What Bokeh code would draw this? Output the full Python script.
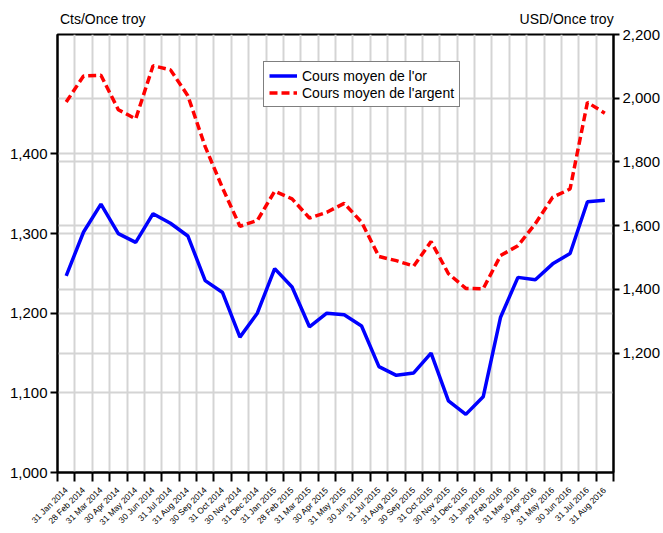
import math
from bokeh.plotting import figure
from bokeh.models import (Range1d, LinearAxis, FixedTicker, NumeralTickFormatter,
                          CustomJSTickFormatter, Grid, Legend, LegendItem)
from bokeh.embed import file_html
from bokeh.resources import INLINE

months = ["31 Jan 2014", "28 Feb 2014", "31 Mar 2014", "30 Apr 2014", "31 May 2014",
          "30 Jun 2014", "31 Jul 2014", "31 Aug 2014", "30 Sep 2014", "31 Oct 2014",
          "30 Nov 2014", "31 Dec 2014", "31 Jan 2015", "28 Feb 2015", "31 Mar 2015",
          "30 Apr 2015", "31 May 2015", "30 Jun 2015", "31 Jul 2015", "31 Aug 2015",
          "30 Sep 2015", "31 Oct 2015", "30 Nov 2015", "31 Dec 2015", "31 Jan 2016",
          "29 Feb 2016", "31 Mar 2016", "30 Apr 2016", "31 May 2016", "30 Jun 2016",
          "31 Jul 2016", "31 Aug 2016"]

gold = [1247, 1302, 1337, 1300, 1289, 1325, 1313, 1297, 1241, 1226, 1170, 1200,
        1256, 1233, 1183, 1200, 1198, 1184, 1133, 1122, 1125, 1150, 1090, 1073,
        1095, 1195, 1245, 1242, 1262, 1275, 1340, 1342]

silver = [1988, 2070, 2072, 1964, 1935, 2102, 2089, 2008, 1848, 1718, 1598, 1616,
          1708, 1684, 1624, 1642, 1670, 1611, 1503, 1490, 1473, 1550, 1449, 1403,
          1402, 1506, 1537, 1606, 1689, 1715, 1987, 1953]

left_ticks = [1000, 1100, 1200, 1300, 1400]
right_ticks = [1200, 1400, 1600, 1800, 2000, 2200]
axis_titles = ["Cts/Once troy", "USD/Once troy"]
gold_label = "Cours moyen de l'or"
silver_label = "Cours moyen de l'argent"

FONT = "Liberation Sans"
n = len(months)
xs = [i + 0.5 for i in range(n)]

p = figure(width=663, height=533, output_backend="svg", toolbar_location=None,
           x_range=Range1d(0, n), y_range=Range1d(1000, 1550),
           min_border_left=57, min_border_right=48, min_border_top=34,
           min_border_bottom=61)
p.extra_y_ranges = {"silver": Range1d(825, 2200)}
p.xaxis.visible = False
p.yaxis.visible = False
p.outline_line_color = "black"
p.outline_line_width = 2
p.background_fill_color = "white"
p.border_fill_color = "white"

# bottom axis: labels centred on months, tick marks between months
xaxis = LinearAxis(ticker=FixedTicker(ticks=xs, minor_ticks=list(range(n + 1))),
                   formatter=CustomJSTickFormatter(args=dict(labels=months),
                                                   code="return labels[Math.floor(tick)] || '';"))
xaxis.major_tick_out = 0
xaxis.major_tick_in = 0
xaxis.minor_tick_out = 9
xaxis.minor_tick_in = 0
xaxis.minor_tick_line_color = "black"
xaxis.minor_tick_line_width = 2
xaxis.axis_line_color = "black"
xaxis.axis_line_width = 2
xaxis.major_label_orientation = math.pi / 4
xaxis.major_label_standoff = 7
xaxis.major_label_text_font = FONT
xaxis.major_label_text_font_size = "8.5px"
xaxis.major_label_text_color = "black"
p.add_layout(xaxis, "below")

# top "axis" carrying the two unit titles as its labels
taxis = LinearAxis(ticker=FixedTicker(ticks=[2.6, 29.3]),
                   formatter=CustomJSTickFormatter(args=dict(titles=axis_titles, half=n / 2),
                                                   code="return tick < half ? titles[0] : titles[1];"))
taxis.axis_line_color = None
taxis.major_tick_line_color = None
taxis.minor_tick_line_color = None
taxis.major_tick_out = 0
taxis.major_tick_in = 0
taxis.major_label_standoff = 8
taxis.major_label_text_font = FONT
taxis.major_label_text_font_size = "14px"
taxis.major_label_text_color = "black"
p.add_layout(taxis, "above")

# left axis
laxis = LinearAxis(ticker=FixedTicker(ticks=left_ticks),
                   formatter=NumeralTickFormatter(format="0,0"))
laxis.major_tick_out = 7
laxis.major_tick_in = 0
laxis.major_tick_line_width = 2
laxis.axis_line_width = 2
laxis.major_label_standoff = 3
laxis.major_label_text_font = FONT
laxis.major_label_text_font_size = "15px"
laxis.major_label_text_color = "black"
p.add_layout(laxis, "left")

# right axis
raxis = LinearAxis(y_range_name="silver", ticker=FixedTicker(ticks=right_ticks),
                   formatter=NumeralTickFormatter(format="0,0"))
raxis.major_tick_out = 6
raxis.major_tick_in = 0
raxis.major_tick_line_width = 2
raxis.axis_line_width = 2
raxis.major_label_standoff = 3
raxis.major_label_text_font = FONT
raxis.major_label_text_font_size = "15px"
raxis.major_label_text_color = "black"
p.add_layout(raxis, "right")

# grids
p.xgrid.visible = False
p.ygrid.visible = False
GRID_COLOR = "#d4d4d4"
p.add_layout(Grid(dimension=0, ticker=FixedTicker(ticks=list(range(n + 1))),
                  grid_line_color=GRID_COLOR, grid_line_width=2))
p.add_layout(Grid(dimension=1, ticker=FixedTicker(ticks=left_ticks),
                  grid_line_color=GRID_COLOR, grid_line_width=2))
p.add_layout(Grid(dimension=1, y_range_name="silver", ticker=FixedTicker(ticks=right_ticks),
                  grid_line_color=GRID_COLOR, grid_line_width=2))

r_gold = p.line(xs, gold, line_color="#0000ff", line_width=3.5)
r_silver = p.line(xs, silver, line_color="#ff0000", line_width=3.5, line_dash="8 4",
                  y_range_name="silver")

legend = Legend(items=[LegendItem(label=gold_label, renderers=[r_gold]),
                       LegendItem(label=silver_label, renderers=[r_silver])],
                location=(206, 365), orientation="vertical")
legend.label_text_font = FONT
legend.label_text_font_size = "14px"
legend.label_text_color = "black"
legend.label_height = 17
legend.glyph_height = 17
legend.glyph_width = 28
legend.label_standoff = 5
legend.padding = 5
legend.spacing = 0
legend.margin = 0
legend.border_line_color = "black"
legend.border_line_width = 1.5
legend.background_fill_color = "white"
legend.background_fill_alpha = 1
p.add_layout(legend, "center")

open("out.html", "w").write(file_html(p, INLINE))
